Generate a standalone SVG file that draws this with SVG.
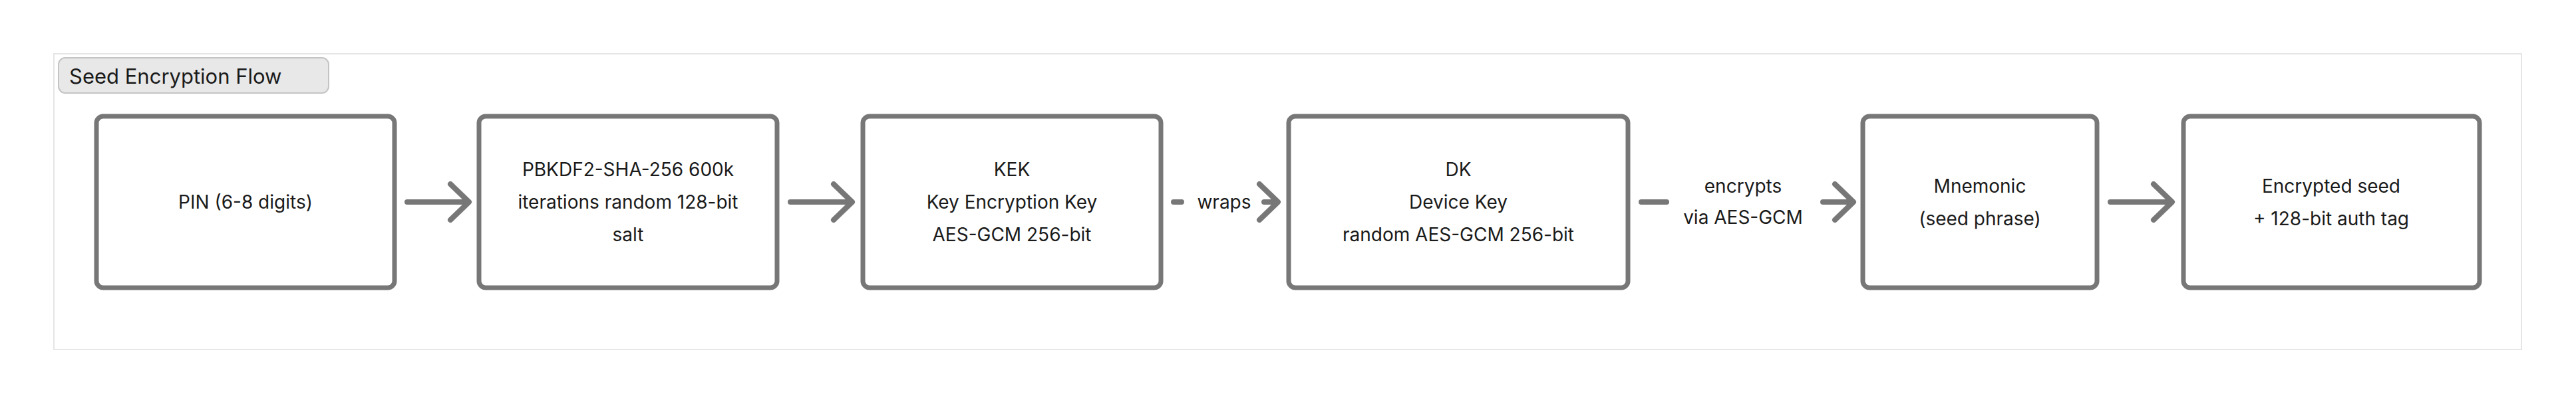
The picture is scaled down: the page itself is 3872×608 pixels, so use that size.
<svg xmlns="http://www.w3.org/2000/svg" width="3872" height="608" viewBox="0 0 3872 608">
<style>
.n{fill:#fff;stroke:#777;stroke-width:7}
.t{font-family:Inter,"Noto Sans",sans-serif;font-size:28px;fill:#1a1a1a;text-anchor:middle}
.e{fill:none;stroke:#777;stroke-width:8;stroke-linecap:round}
.h{fill:none;stroke:#777;stroke-width:8;stroke-linecap:round;stroke-linejoin:round}
</style>
<rect width="3872" height="608" fill="#fff"/>
<g id="frame">
<rect x="81" y="81" width="3709" height="445" fill="#fff" stroke="#e6e6e6" stroke-width="2"/>
<rect x="88" y="87" width="406" height="53" rx="10" fill="#e8e8e8" stroke="#c4c4c4" stroke-width="2"/>
<text x="104" y="126" font-family="Inter,'Noto Sans',sans-serif" font-size="31" fill="#1a1a1a">Seed Encryption Flow</text>
</g>
<g id="pin"><rect class="n" x="145" y="175" width="448" height="258" rx="10"/><text class="t" x="369" y="314">PIN (6-8 digits)</text></g>
<g id="pbkdf2"><rect class="n" x="720" y="175" width="448" height="258" rx="10"/><text class="t" x="944" y="265">PBKDF2-SHA-256 600k</text><text class="t" x="944" y="314">iterations random 128-bit</text><text class="t" x="944" y="363">salt</text></g>
<g id="kek"><rect class="n" x="1297" y="175" width="448" height="258" rx="10"/><text class="t" x="1521" y="265">KEK</text><text class="t" x="1521" y="314">Key Encryption Key</text><text class="t" x="1521" y="363">AES-GCM 256-bit</text></g>
<g id="dk"><rect class="n" x="1937" y="175" width="510" height="258" rx="10"/><text class="t" x="2192" y="265">DK</text><text class="t" x="2192" y="314">Device Key</text><text class="t" x="2192" y="363">random AES-GCM 256-bit</text></g>
<g id="mnemonic"><rect class="n" x="2800" y="175" width="352" height="258" rx="10"/><text class="t" x="2976" y="290">Mnemonic</text><text class="t" x="2976" y="339">(seed phrase)</text></g>
<g id="encrypted"><rect class="n" x="3282" y="175" width="445" height="258" rx="10"/><text class="t" x="3504" y="290">Encrypted seed</text><text class="t" x="3504" y="339">+ 128-bit auth tag</text></g>
<g id="connectors">
<line class="e" x1="612" y1="304" x2="704" y2="304"/><polyline class="h" points="677,277 705,304 677,331"/>
<line class="e" x1="1188" y1="304" x2="1280" y2="304"/><polyline class="h" points="1253,277 1281,304 1253,331"/>
<line class="e" x1="1764" y1="304" x2="1776" y2="304"/><line class="e" x1="1900" y1="304" x2="1918" y2="304"/><polyline class="h" points="1893,277 1921,304 1893,331"/>
<text class="t" x="1840" y="314">wraps</text>
<line class="e" x1="2467" y1="304" x2="2505" y2="304"/><line class="e" x1="2740" y1="304" x2="2782" y2="304"/><polyline class="h" points="2758,277 2786,304 2758,331"/>
<text class="t" x="2620" y="290">encrypts</text><text class="t" x="2620" y="337">via AES-GCM</text>
<line class="e" x1="3172" y1="304" x2="3264" y2="304"/><polyline class="h" points="3237,277 3265,304 3237,331"/>
</g>
</svg>
